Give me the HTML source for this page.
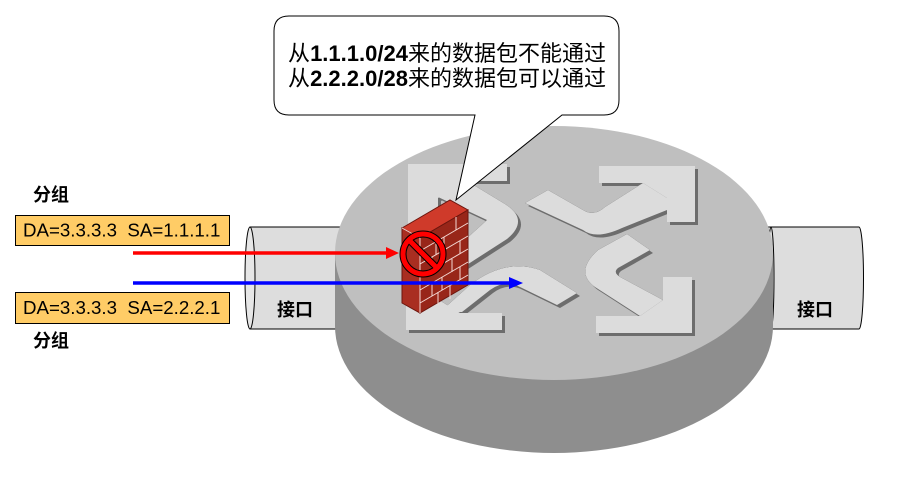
<!DOCTYPE html>
<html><head><meta charset="utf-8"><style>
html,body{margin:0;padding:0;background:#fff;}
svg{display:block;}
</style></head><body>
<svg width="902" height="480" viewBox="0 0 902 480" xmlns="http://www.w3.org/2000/svg">
<!-- interfaces (behind router) -->
<path d="M250,227 H350 V329 H250 Z" fill="#dddddd" stroke="#000" stroke-width="1"/>
<ellipse cx="250" cy="278" rx="5" ry="51" fill="#e6e6e6" stroke="#000" stroke-width="1"/>
<path d="M760,227 H859 A4.5,51 0 0 1 859,329 H760 Z" fill="#dddddd" stroke="#000" stroke-width="1"/>
<ellipse cx="771" cy="278" rx="3" ry="51" fill="#dddddd" stroke="#000" stroke-width="1"/>

<!-- router -->
<ellipse cx="554" cy="326" rx="219" ry="127" fill="#8e8e8e"/>
<rect x="335" y="253" width="438" height="73" fill="#8e8e8e"/>
<ellipse cx="554" cy="253" rx="219" ry="127" fill="#bfbfbf"/>

<!-- arrows: shadow then light -->
<g id="arr">
<polygon points="408,164 507,164 507,181 467,181 438,198 438,255 408,255"/>
<path d="M467,181 L505,204 Q530,220 507,239 L462,268 L445,258 L487,220 L438,197 Z"/>
<polygon points="406,270 436,270 436,298 460,313 502,313 502,330 406,330"/>
<path d="M577,293 L557,305 L520,287 Q505,279 490,290 L462,312 L440,312 L470,285 Q505,258 540,270 Z"/>
<polygon points="599,166 695,166 695,222 667,222 667,198 643,183 599,183"/>
<path d="M525,203 L548,190 L583,210 Q594,217 605,207 L643,183 L667,198 L667,210 L622,228 Q596,240 583,230 Z"/>
<polygon points="663,277 692,277 692,333 596,333 596,316 640,316 663,300"/>
<path d="M627,234 L650,250 L618,268 Q612,273 622,278 L663,300 L640,316 L595,287 Q574,272 598,250 Z"/>
</g>
<use href="#arr" transform="translate(3,3)" fill="#6d6d6d"/>
<use href="#arr" fill="#dcdcdc"/>

<!-- callout -->
<path d="M289,16 H604 Q619,16 619,31 V100 Q619,115 604,115 H562 L456,200 L475,115 H289 Q274,115 274,100 V31 Q274,16 289,16 Z" fill="#fff" stroke="#000" stroke-width="1"/>
<text x="447" y="61" text-anchor="middle" font-family="'Liberation Sans','Noto Sans CJK SC',sans-serif" font-size="22" fill="#000">从<tspan font-weight="bold">1.1.1.0/24</tspan>来的数据包不能通过</text>
<text x="447" y="86" text-anchor="middle" font-family="'Liberation Sans','Noto Sans CJK SC',sans-serif" font-size="22" fill="#000">从<tspan font-weight="bold">2.2.2.0/28</tspan>来的数据包可以通过</text>

<!-- red arrow -->
<line x1="133" y1="253" x2="388" y2="253" stroke="#ff0000" stroke-width="3.5"/>
<polygon points="386,247 399,253 386,259" fill="#ff0000"/>

<!-- firewall -->
<polygon points="402,228 450,200 468,210 420,238" fill="#cf3a2a" stroke="#6b150d" stroke-width="1"/>
<polygon points="402,228 420,238 420,313 402,303" fill="#a92e21" stroke="#6b150d" stroke-width="1"/>
<polygon points="420,238 468,210 468,285 420,313" fill="#982619" stroke="#6b150d" stroke-width="1"/>
<g stroke="#f4d8d4" stroke-width="1" fill="none">
<line x1="402" y1="228" x2="420" y2="238"/>
<line x1="420" y1="238" x2="420" y2="313"/>
<line x1="420" y1="251" x2="468" y2="223"/>
<line x1="420" y1="264" x2="468" y2="236"/>
<line x1="420" y1="277" x2="468" y2="249"/>
<line x1="420" y1="290" x2="468" y2="262"/>
<line x1="420" y1="303" x2="468" y2="275"/>
<line x1="456" y1="217" x2="456" y2="230"/>
<line x1="436" y1="242" x2="436" y2="255"/>
<line x1="444" y1="237" x2="444" y2="250"/>
<line x1="460" y1="241" x2="460" y2="254"/>
<line x1="432" y1="257" x2="432" y2="270"/>
<line x1="452" y1="259" x2="452" y2="272"/>
<line x1="442" y1="277" x2="442" y2="290"/>
<line x1="460" y1="267" x2="460" y2="280"/>
<line x1="432" y1="283" x2="432" y2="296"/>
<line x1="450" y1="286" x2="450" y2="299"/>
<line x1="438" y1="292" x2="438" y2="305"/>
</g>
<!-- no-entry sign -->
<g fill="none">
<circle cx="423" cy="254" r="20" stroke="#000" stroke-width="7"/>
<line x1="409" y1="240" x2="437" y2="268" stroke="#000" stroke-width="7"/>
<circle cx="423" cy="254" r="20" stroke="#ff0000" stroke-width="5"/>
<line x1="409.5" y1="240.5" x2="436.5" y2="267.5" stroke="#ff0000" stroke-width="5"/>
</g>

<!-- blue arrow -->
<line x1="133" y1="283" x2="512" y2="283" stroke="#0000ff" stroke-width="3.5"/>
<polygon points="509,277 523,283 509,289" fill="#0000ff"/>

<!-- packets -->
<rect x="15.5" y="215.5" width="214" height="30" fill="#ffcc66" stroke="#000" stroke-width="1"/>
<text x="23" y="236.5" font-family="'Liberation Sans',sans-serif" font-size="18.7" fill="#000" style="white-space:pre" xml:space="preserve">DA=3.3.3.3  SA=1.1.1.1</text>
<rect x="15.5" y="292.5" width="214" height="31" fill="#ffcc66" stroke="#000" stroke-width="1"/>
<text x="23" y="314" font-family="'Liberation Sans',sans-serif" font-size="18.7" fill="#000" style="white-space:pre" xml:space="preserve">DA=3.3.3.3  SA=2.2.2.1</text>

<g font-family="'Liberation Sans','Noto Sans CJK SC',sans-serif" font-size="18" font-weight="bold" fill="#000">
<text x="33" y="201">分组</text>
<text x="33" y="347">分组</text>
<text x="277" y="316">接口</text>
<text x="797" y="316">接口</text>
</g>
</svg>
</body></html>
